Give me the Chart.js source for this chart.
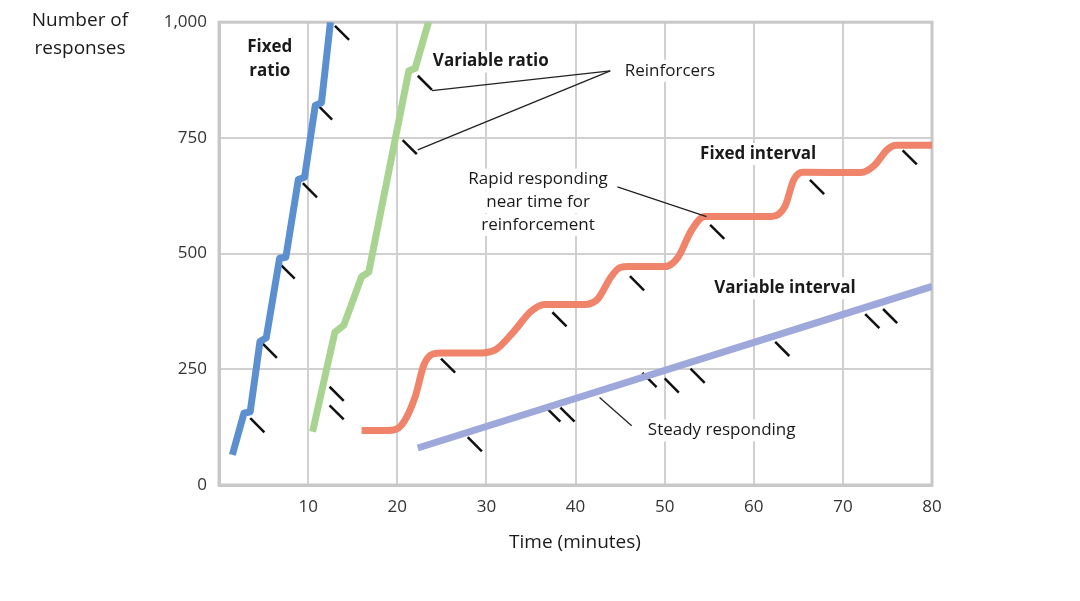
<!DOCTYPE html>
<html>
<head>
<meta charset="utf-8">
<script src="https://cdn.jsdelivr.net/npm/chart.js@4/dist/chart.umd.min.js"></script>
<style>
  body { margin: 0; background: #fff; }
  #wrap { width: 1080px; height: 601px; }
</style>
</head>
<body>
<div id="wrap"><canvas id="c" width="1080" height="601"></canvas></div>
<script>
// series (time in minutes, responses)
const fixedRatio = [[1.5,65],[2.8,155],[3.5,158],[4.6,310],[5.3,318],[6.8,490],[7.5,492],[8.9,660],[9.6,665],[10.8,820],[11.5,826],[12.5,1000]];
const variableRatio = [[10.5,115],[13,330],[14,345],[16,450],[16.8,460],[21.3,895],[22,900],[23.5,1000]];
const fixedInterval = [[16,118],[19,118],[20.5,130],[22,190],[23,260],[24,283],[25,285],[29,285],[31,292],[33,330],[35,375],[36.5,390],[41,390],[42.5,402],[44,450],[45,470],[46,472],[50,472],[51.5,492],[53,550],[54.5,580],[62,580],[63.5,602],[64.5,660],[65.5,676],[72,675],[73.5,690],[75,725],[76,734],[80,734]];
const variableInterval = [[22.3,80],[80,429]];

// reinforcer marks
const reinforcers = [
  [4.3,129],[5.7,290],[7.7,461],[10.2,637],[11.9,805],[13.8,977],
  [13.2,197],[13.2,157],[23.1,869],[21.4,730],
  [25.7,258],[38.2,358],[46.9,436],[55.9,547],[67.1,644],[77.5,708],
  [28.7,88],[37.5,152],[39.1,152],[48.3,227],[50.8,215],[53.7,236],[63.2,294],[73.3,354],[75.3,365]
];

const xTicks = [10,20,30,40,50,60,70,80];
const yTicks = [0,250,500,750,1000];

// labels: [text, x, y, bold]
const labels = [
  ['Fixed', 5.7, 945, true], ['ratio', 5.7, 895, true],
  ['Variable ratio', 30.5, 915, true],
  ['Reinforcers', 50.6, 895, false],
  ['Fixed interval', 60.5, 715, true],
  ['Rapid responding', 35.8, 660, false], ['near time for', 35.8, 611, false], ['reinforcement', 35.8, 562, false],
  ['Variable interval', 63.5, 425, true],
  ['Steady responding', 56.4, 118, false]
];
// pointer lines: [x1,y1,x2,y2]
const pointers = [
  [43.9,895,23.9,852],[43.9,895,22.3,724],
  [44.7,644,54.7,580],
  [46.3,128,42.7,189]
];

const toXY = a => a.map(p => ({x: p[0], y: p[1]}));
const FONT = '"Open Sans", "DejaVu Sans", sans-serif';

const annotate = {
  id: 'annotate',
  afterDatasetsDraw(chart) {
    const {ctx, scales: {x, y}} = chart;
    ctx.save();
    ctx.strokeStyle = '#222';
    ctx.lineWidth = 1.3;
    pointers.forEach(p => {
      ctx.beginPath();
      ctx.moveTo(x.getPixelForValue(p[0]), y.getPixelForValue(p[1]));
      ctx.lineTo(x.getPixelForValue(p[2]), y.getPixelForValue(p[3]));
      ctx.stroke();
    });
    ctx.textAlign = 'center';
    ctx.textBaseline = 'middle';
    labels.forEach(l => {
      const tx = x.getPixelForValue(l[1]), ty = y.getPixelForValue(l[2]);
      ctx.font = (l[3] ? 'bold ' : '') + '17px ' + FONT;
      ctx.fillStyle = '#fff';
      const w = ctx.measureText(l[0]).width;
      ctx.fillRect(tx - w / 2 - 3, ty - 11, w + 6, 22);
      ctx.fillStyle = '#1a1a1a';
      ctx.fillText(l[0], tx, ty);
    });
    ctx.font = '19px ' + FONT;
    ctx.fillText('Number of', 80, 21);
    ctx.fillText('responses', 80, 49);
    ctx.fillText('Time (minutes)', 575, 543);
    ctx.restore();
  }
};

const line = (data, color, extra) => Object.assign({
  type: 'line', data: toXY(data), borderColor: color, borderWidth: 7,
  pointRadius: 0, fill: false, borderJoinStyle: 'round', borderCapStyle: 'butt'
}, extra || {});

new Chart(document.getElementById('c'), {
  data: {
    datasets: [
      line(fixedRatio, '#5b8fd0'),
      line(variableRatio, '#a8d390'),
      line(fixedInterval, '#f0846a', {cubicInterpolationMode: 'monotone'}),
      line(variableInterval, '#9ea8da'),
      {
        type: 'scatter', data: toXY(reinforcers), pointStyle: 'line', rotation: 45,
        radius: 10, borderColor: '#111', borderWidth: 2.5, hoverRadius: 10
      }
    ]
  },
  options: {
    responsive: false,
    animation: false,
    layout: { padding: { left: 0, right: 148, top: 19, bottom: 0 } },
    plugins: { legend: { display: false }, tooltip: { enabled: false } },
    scales: {
      x: {
        type: 'linear', min: 0, max: 80,
        afterBuildTicks: s => { s.ticks = xTicks.map(v => ({value: v})); },
        afterFit: s => { s.height = 116; },
        grid: { color: '#d0d0d0', lineWidth: 2, drawTicks: false },
        border: { color: '#c8c8c8', width: 3 },
        ticks: { color: '#333', font: { size: 17, family: FONT }, padding: 12 }
      },
      y: {
        min: 0, max: 1000,
        afterBuildTicks: s => { s.ticks = yTicks.map(v => ({value: v})); },
        afterFit: s => { s.width = 219; },
        grid: { color: '#d0d0d0', lineWidth: 2, drawTicks: false },
        border: { color: '#c8c8c8', width: 3 },
        ticks: { color: '#333', font: { size: 17, family: FONT }, padding: 12 }
      }
    }
  },
  plugins: [annotate, {
    id: 'frame',
    beforeDatasetsDraw(chart) {
      const a = chart.chartArea, ctx = chart.ctx;
      ctx.save();
      ctx.strokeStyle = '#c8c8c8';
      ctx.lineWidth = 3;
      ctx.strokeRect(a.left, a.top, a.right - a.left, a.bottom - a.top);
      ctx.restore();
    }
  }]
});
</script>
</body>
</html>
